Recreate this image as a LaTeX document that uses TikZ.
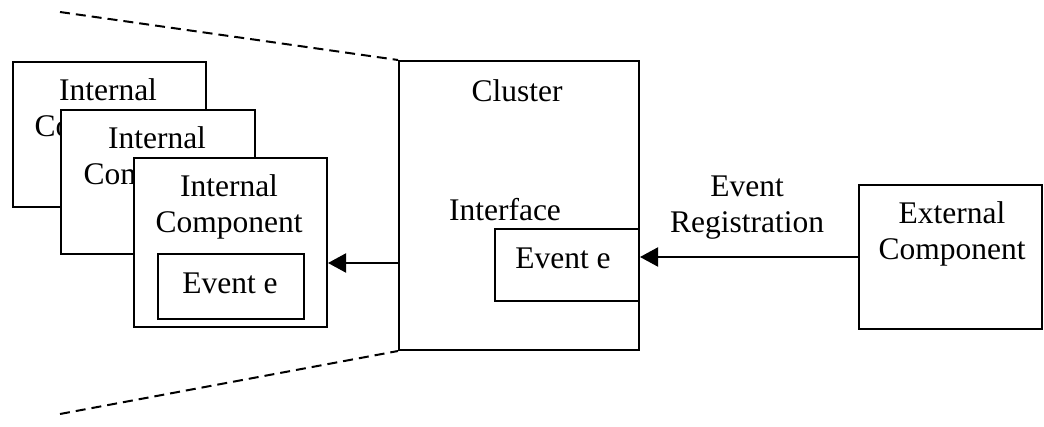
\documentclass[tikz,border=0pt]{standalone}
\usepackage{fontspec}
\setmainfont{Liberation Serif}
\usetikzlibrary{arrows.meta}
\begin{document}
\begin{tikzpicture}[x=1pt,y=-1pt,
  box/.style={draw,line width=2pt,fill=white,rectangle,inner sep=0pt,anchor=north west},
  txt/.style={font=\fontsize{31.5}{36}\selectfont,anchor=base,inner sep=0pt},
  conn/.style={line width=2pt,-{Triangle[length=18pt,width=19pt]}},
  dashline/.style={line width=2pt,dash pattern=on 10pt off 6pt}
]
\useasboundingbox (0,0) rectangle (1044,427);
% stacked internal components
\node[box,minimum width=193pt,minimum height=145pt] (b1) at (12,61) {};
\node[txt] (b1t1) at (108,101) {Internal};
\node[txt] (b1t2) at (108,137) {Component};
\node[box,minimum width=194pt,minimum height=144pt] (b2) at (60,109) {};
\node[txt] (b2t1) at (157,149) {Internal};
\node[txt] (b2t2) at (157,185) {Component};
\node[box,minimum width=193pt,minimum height=169pt] (b3) at (133,157) {};
\node[txt] (b3t1) at (229,197) {Internal};
\node[txt] (b3t2) at (229,233) {Component};
\node[box,minimum width=146pt,minimum height=65pt] (ev1) at (157,253) {};
\node[txt] (ev1t) at (230,294) {Event e};
% cluster
\node[box,minimum width=240pt,minimum height=289pt] (cl) at (398,60) {};
\node[txt] (clt) at (517,102) {Cluster};
\node[txt] (ift) at (505,221) {Interface};
\node[box,minimum width=144pt,minimum height=72pt] (ev2) at (494,228) {};
\node[txt] (ev2t) at (563,269) {Event e};
% external
\node[box,minimum width=183pt,minimum height=144pt] (ext) at (858,184) {};
\node[txt] (ext1) at (952,224) {External};
\node[txt] (ext2) at (952,260) {Component};
% label
\node[txt] (lab1) at (747,197) {Event};
\node[txt] (lab2) at (747,233) {Registration};
% connectors
\draw[conn] (cl.west |- 0,263) -- (b3.east |- 0,263);
\draw[conn] (ext.west |- 0,257) -- (ev2.east |- 0,257);
% dashed
\coordinate (d1) at (60,12);
\coordinate (d2) at (60,414);
\draw[dashline] (d1) -- (cl.north west);
\draw[dashline] (d2) -- (cl.south west);
\end{tikzpicture}
\end{document}
